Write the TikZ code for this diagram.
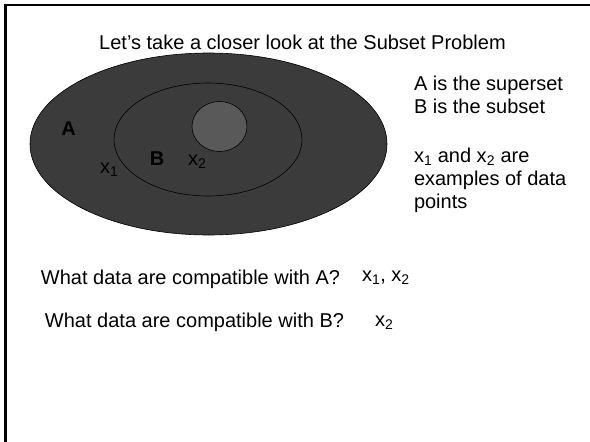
\documentclass[tikz,border=0pt]{standalone}
\usepackage{fontspec}
\setmainfont{Liberation Sans}
\begin{document}
\begin{tikzpicture}[x=1pt,y=-1pt,
  txt/.style={inner sep=0pt,outer sep=0pt,font=\fontsize{20}{23}\selectfont,text=black,anchor=base west},
  lbl/.style={txt,font=\fontsize{20}{23}\selectfont\bfseries,anchor=base},
  setA/.style={draw=black,line width=0.6pt,fill=setgray},
  setB/.style={draw=black,line width=0.6pt,fill=setgray},
  core/.style={draw=black,line width=0.6pt,fill=coregray}]
\definecolor{setgray}{HTML}{3B3B3B}
\definecolor{coregray}{HTML}{595959}
\useasboundingbox[fill=white] (0,0) rectangle (590,442);
% frame
\draw[line width=2.6pt,black] (5.5,450) -- (5.5,5) -- (600,5);
% sets
\path[setA] (208.5,144) ellipse [x radius=178.5,y radius=91];
\path[setB] (208,139.5) ellipse [x radius=94,y radius=56.5];
\path[core] (219.5,126.5) ellipse [x radius=27.5,y radius=25];
% title
\node[txt,anchor=base] (title) at (302.5,49) {Let’s take a closer look at the Subset Problem};
% labels in diagram
\node[lbl] (labA) at (68.5,135) {A};
\node[lbl] (labB) at (157,165) {B};
\node[txt] (x1) at (100,173) {x\textsubscript{1}};
\node[txt] (x2) at (188,165) {x\textsubscript{2}};
% right text
\node[txt] (defA) at (414,90) {A is the superset};
\node[txt] (defB) at (414,113) {B is the subset};
\node[txt] (ex1) at (414,162) {x\textsubscript{1} and x\textsubscript{2} are};
\node[txt] (ex2) at (414,185) {examples of data};
\node[txt] (ex3) at (414,208) {points};
% questions
\node[txt] (qA) at (41,284) {What data are compatible with A?};
\node[txt] (aA) at (362,281) {x\textsubscript{1}, x\textsubscript{2}};
\node[txt] (qB) at (45,327) {What data are compatible with B?};
\node[txt] (aB) at (375,326) {x\textsubscript{2}};
\end{tikzpicture}
\end{document}
